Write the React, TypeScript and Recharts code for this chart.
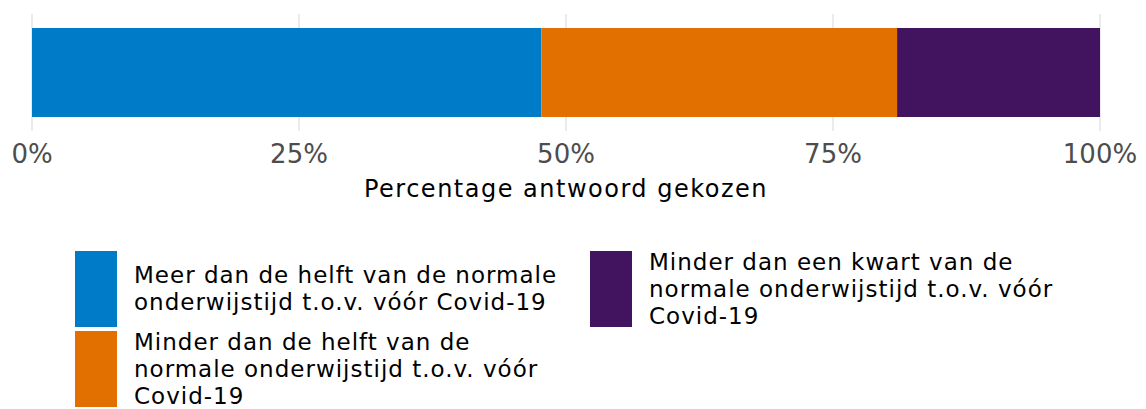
import { BarChart, Bar, XAxis, YAxis, CartesianGrid } from 'recharts';

const categories = ['Onderwijstijd'];
const seriesNames = [
  'Meer dan de helft van de normale onderwijstijd t.o.v. vóór Covid-19',
  'Minder dan de helft van de normale onderwijstijd t.o.v. vóór Covid-19',
  'Minder dan een kwart van de normale onderwijstijd t.o.v. vóór Covid-19',
];
const legendLines = [
  ['Meer dan de helft van de normale', 'onderwijstijd t.o.v. vóór Covid-19'],
  ['Minder dan de helft van de', 'normale onderwijstijd t.o.v. vóór', 'Covid-19'],
  ['Minder dan een kwart van de', 'normale onderwijstijd t.o.v. vóór', 'Covid-19'],
];
const meerDanHelft = [47.7];
const minderDanHelft = [33.3];
const minderDanKwart = [19.0];
const ticks = [0, 25, 50, 75, 100];
const colors = ['#007bc7', '#e17000', '#42145f'];

const data = categories.map((c, i) => ({
  name: c,
  s0: meerDanHelft[i],
  s1: minderDanHelft[i],
  s2: minderDanKwart[i],
}));

const font = '"DejaVu Sans", Verdana, sans-serif';

function LegendItem({ idx, left, top }: { idx: number; left: number; top: number }) {
  return (
    <div style={{ position: 'absolute', left, top, height: 76, display: 'flex', alignItems: 'center' }}>
      <div style={{ width: 42, height: 76, background: colors[idx], flexShrink: 0 }} />
      <div style={{ marginLeft: 17, fontSize: 23, letterSpacing: 1, lineHeight: '27px', color: '#000', whiteSpace: 'nowrap' }}>
        {legendLines[idx].map((l, j) => (
          <div key={j}>{l}</div>
        ))}
      </div>
    </div>
  );
}

export default function App() {
  return (
    <div style={{ position: 'absolute', left: 0, top: 0, width: 1146, height: 409, fontFamily: font, background: '#fff' }}>
      <BarChart
        width={1146}
        height={409}
        data={data}
        layout="vertical"
        margin={{ top: 14, right: 46, bottom: 212, left: 32 }}
        barSize={89}
      >
        <CartesianGrid horizontal={false} stroke="#ebebeb" strokeWidth={2} />
        <XAxis
          type="number"
          domain={[0, 100]}
          ticks={ticks}
          tickFormatter={(v) => `${v}%`}
          axisLine={false}
          tickLine={false}
          tickMargin={8}
          height={66}
          tick={{ fill: '#4d4d4d', fontSize: 26, fontFamily: font }}
          label={{ value: 'Percentage antwoord gekozen', position: 'insideBottom', offset: 0, fill: '#000', fontSize: 24, letterSpacing: 1.5, fontFamily: font }}
        />
        <YAxis type="category" dataKey="name" hide />
        {seriesNames.map((n, i) => (
          <Bar key={n} dataKey={`s${i}`} name={n} stackId="a" fill={colors[i]} isAnimationActive={false} />
        ))}
      </BarChart>
      <LegendItem idx={0} left={75} top={251} />
      <LegendItem idx={1} left={75} top={331} />
      <LegendItem idx={2} left={590} top={251} />
    </div>
  );
}
